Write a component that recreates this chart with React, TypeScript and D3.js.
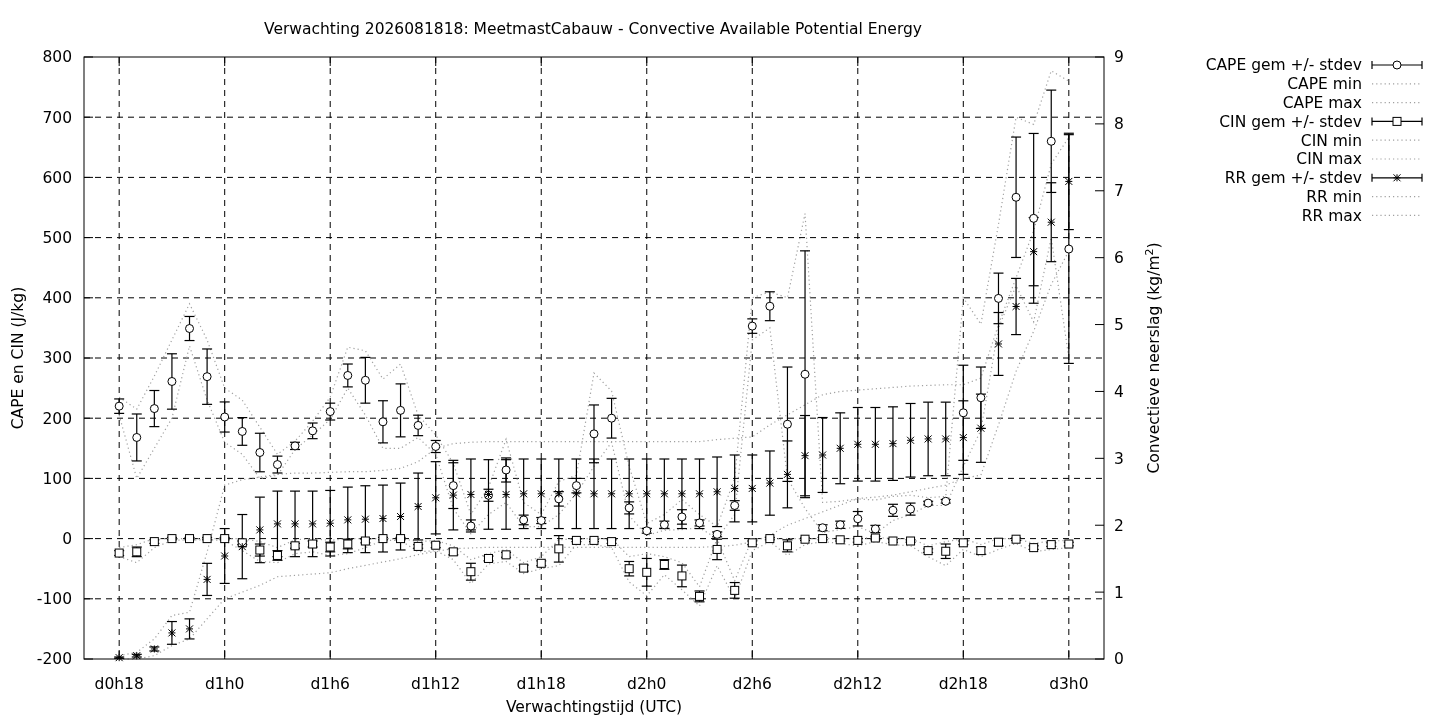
import * as d3 from "d3";
import { useEffect, useRef } from "react";

// forecast hour (18 = d0h18 ... 72 = d3h0)
const hours = d3.range(18, 73);

const capeMean = [220, 168, 216, 261, 349, 269, 202, 178, 143, 123, 154, 179, 211, 271, 263, 194, 213, 188, 153, 88, 21, 72, 114, 31, 30, 66, 88, 174, 200, 51, 13, 23, 36, 26, 7, 55, 353, 386, 190, 273, 18, 23, 33, 16, 47, 49, 59, 62, 209, 234, 399, 567, 532, 660, 481];
const capeSd = [12, 39, 30, 46, 20, 46, 25, 23, 32, 14, 6, 13, 14, 19, 38, 35, 44, 17, 10, 38, 10, 10, 20, 8, 5, 12, 12, 48, 33, 10, 4, 6, 12, 5, 4, 8, 12, 24, 95, 205, 5, 6, 12, 6, 10, 10, 3, 3, 79, 51, 42, 100, 141, 85, 190];
const capeMin = [205, 100, 150, 200, 320, 230, 160, 140, 100, 105, 148, 172, 198, 250, 205, 150, 150, 168, 140, 50, 8, 40, 60, 20, 20, 40, 75, 120, 160, 38, 5, 14, 15, 18, 0, 40, 330, 350, 100, 50, 10, 15, 20, 8, 30, 40, 55, 55, 120, 180, 350, 420, 360, 500, 300];
const capeMax = [235, 215, 270, 330, 390, 330, 250, 230, 185, 140, 162, 195, 235, 318, 312, 265, 290, 205, 172, 125, 40, 85, 165, 60, 40, 95, 105, 275, 245, 120, 25, 40, 65, 40, 20, 100, 400, 410, 400, 540, 60, 62, 66, 64, 70, 72, 68, 70, 400, 356, 522, 700, 688, 777, 760];

const cinMean = [-24, -22, -5, 0, 0, 0, 0, -7, -19, -28, -12, -9, -14, -9, -4, 0, 0, -13, -11, -22, -55, -33, -27, -49, -41, -17, -3, -3, -5, -50, -56, -43, -62, -96, -18, -86, -7, 0, -12, -1, 0, -2, -3, 1, -4, -4, -20, -21, -7, -20, -6, -1, -15, -10, -9];
const cinSd = [4, 8, 3, 2, 2, 2, 2, 3, 10, 8, 4, 5, 8, 8, 3, 2, 2, 3, 4, 5, 14, 4, 4, 5, 4, 22, 2, 2, 3, 12, 23, 8, 18, 9, 17, 13, 3, 2, 10, 2, 2, 2, 3, 3, 2, 2, 3, 12, 3, 6, 6, 2, 3, 3, 3];
const cinMin = [-30, -40, -15, -3, -2, -2, -3, -20, -38, -40, -25, -22, -28, -25, -15, -3, -3, -22, -20, -35, -75, -42, -38, -58, -50, -45, -10, -10, -15, -72, -95, -60, -85, -112, -45, -100, -20, -5, -28, -10, -5, -8, -12, -5, -10, -12, -30, -45, -18, -30, -18, -8, -22, -18, -15];
const cinMax = [-15, -10, 0, 0, 0, 0, 0, 0, -5, -15, -2, 0, -3, 0, 0, 0, 0, -5, -3, -12, -35, -25, -18, -40, -30, -2, 0, 0, 0, -30, -25, -30, -40, -80, 0, -70, 0, 0, 0, 0, 0, 0, 0, 2, 0, 0, -12, -5, 0, -10, 0, 0, -8, -4, -3];

const rrMean = [0.02, 0.05, 0.15, 0.39, 0.45, 1.19, 1.54, 1.68, 1.93, 2.02, 2.02, 2.02, 2.03, 2.08, 2.09, 2.1, 2.13, 2.28, 2.41, 2.45, 2.46, 2.46, 2.46, 2.47, 2.47, 2.47, 2.47, 2.47, 2.47, 2.47, 2.47, 2.47, 2.47, 2.47, 2.5, 2.55, 2.55, 2.63, 2.76, 3.04, 3.05, 3.15, 3.21, 3.21, 3.22, 3.27, 3.29, 3.29, 3.31, 3.45, 4.71, 5.27, 6.09, 6.53, 7.14];
const rrSd = [0.01, 0.02, 0.03, 0.17, 0.15, 0.24, 0.41, 0.48, 0.49, 0.49, 0.49, 0.49, 0.49, 0.49, 0.5, 0.5, 0.5, 0.5, 0.54, 0.52, 0.53, 0.52, 0.52, 0.52, 0.52, 0.52, 0.52, 0.52, 0.52, 0.52, 0.52, 0.52, 0.52, 0.52, 0.52, 0.5, 0.5, 0.48, 0.5, 0.6, 0.56, 0.53, 0.55, 0.55, 0.55, 0.55, 0.55, 0.55, 0.55, 0.51, 0.47, 0.42, 0.51, 0.59, 0.72];
const rrMin = [0, 0, 0.05, 0.2, 0.3, 0.6, 0.9, 1.0, 1.1, 1.23, 1.25, 1.27, 1.29, 1.35, 1.4, 1.45, 1.5, 1.56, 1.61, 1.65, 1.66, 1.67, 1.67, 1.67, 1.67, 1.67, 1.67, 1.67, 1.67, 1.67, 1.67, 1.67, 1.67, 1.67, 1.68, 1.7, 1.75, 1.85, 2.0, 2.1, 2.2, 2.3, 2.4, 2.42, 2.45, 2.5, 2.55, 2.6, 2.7, 2.75, 3.5, 4.3, 4.9, 5.6, 6.1];
const rrMax = [0.05, 0.1, 0.3, 0.65, 0.7, 1.6, 2.6, 2.68, 2.72, 2.76, 2.78, 2.78, 2.79, 2.8, 2.8, 2.82, 2.85, 2.95, 3.15, 3.22, 3.24, 3.25, 3.25, 3.25, 3.25, 3.25, 3.25, 3.25, 3.25, 3.25, 3.25, 3.25, 3.25, 3.25, 3.28, 3.3, 3.32, 3.5, 3.65, 3.8, 3.95, 4.0, 4.02, 4.04, 4.06, 4.08, 4.09, 4.1, 4.1, 4.2, 5.0, 5.7, 6.4, 7.4, 7.8];

const xTickHours = [18, 24, 30, 36, 42, 48, 54, 60, 66, 72];
const xTickLabels = ["d0h18", "d1h0", "d1h6", "d1h12", "d1h18", "d2h0", "d2h6", "d2h12", "d2h18", "d3h0"];
const yTicks = d3.range(-200, 801, 100);
const y2Ticks = d3.range(0, 10, 1);

const legendLabels = ["CAPE gem +/- stdev", "CAPE min", "CAPE max", "CIN gem +/- stdev", "CIN min", "CIN max", "RR gem +/- stdev", "RR min", "RR max"];

const width = 1440;
const height = 720;
const margin = { top: 57, right: 336, bottom: 61, left: 84 };
const font = "'DejaVu Sans', sans-serif";
const fs = "15.5px";
const grey = "#a0a0a0";

export default function App() {
  const svgRef = useRef<SVGSVGElement>(null);

  useEffect(() => {
    if (!svgRef.current) return;
    const svg = d3.select(svgRef.current);
    svg.selectAll("*").remove();

    const innerWidth = width - margin.left - margin.right;
    const innerHeight = height - margin.top - margin.bottom;

    const x = d3.scaleLinear().domain([16, 74]).range([0, innerWidth]);
    const y = d3.scaleLinear().domain([-200, 800]).range([innerHeight, 0]);
    const y2 = d3.scaleLinear().domain([0, 9]).range([innerHeight, 0]);

    svg.style("font-family", font);
    const g = svg.append("g").attr("transform", `translate(${margin.left},${margin.top})`);

    // Grid
    const grid = g.append("g").attr("stroke", "#000").attr("stroke-width", 1).attr("stroke-dasharray", "6,5");
    xTickHours.forEach((h) => {
      grid.append("line").attr("x1", x(h)).attr("x2", x(h)).attr("y1", 0).attr("y2", innerHeight);
    });
    yTicks.slice(1, -1).forEach((v) => {
      grid.append("line").attr("x1", 0).attr("x2", innerWidth).attr("y1", y(v)).attr("y2", y(v));
    });

    // Ticks (inward) and labels
    const ticks = g.append("g").attr("stroke", "#000");
    const labels = g.append("g").style("font-size", fs).attr("fill", "#000");
    yTicks.forEach((v) => {
      ticks.append("line").attr("x1", 0).attr("x2", 9).attr("y1", y(v)).attr("y2", y(v));
      labels.append("text").attr("x", -12).attr("y", y(v)).attr("dy", "0.35em").attr("text-anchor", "end").text(v);
    });
    y2Ticks.forEach((v) => {
      ticks.append("line").attr("x1", innerWidth).attr("x2", innerWidth - 9).attr("y1", y2(v)).attr("y2", y2(v));
      labels.append("text").attr("x", innerWidth + 10).attr("y", y2(v)).attr("dy", "0.35em").text(v);
    });
    xTickHours.forEach((h, i) => {
      ticks.append("line").attr("x1", x(h)).attr("x2", x(h)).attr("y1", innerHeight).attr("y2", innerHeight - 9);
      ticks.append("line").attr("x1", x(h)).attr("x2", x(h)).attr("y1", 0).attr("y2", 9);
      labels.append("text").attr("x", x(h)).attr("y", innerHeight + 30).attr("text-anchor", "middle").text(xTickLabels[i]);
    });

    // Min / max dotted lines
    const dotted = (vals: number[], scale: d3.ScaleLinear<number, number>) => {
      const line = d3.line<number>().x((_, i) => x(hours[i])).y((d) => scale(d));
      g.append("path")
        .attr("d", line(vals))
        .attr("fill", "none")
        .attr("stroke", grey)
        .attr("stroke-width", 1.2)
        .attr("stroke-dasharray", "1.2,3");
    };
    dotted(capeMin, y);
    dotted(capeMax, y);
    dotted(cinMin, y);
    dotted(cinMax, y);
    dotted(rrMin, y2);
    dotted(rrMax, y2);

    // Error bars
    const errorBars = (mean: number[], sd: number[], scale: d3.ScaleLinear<number, number>) => {
      const eb = g.append("g").attr("stroke", "#000").attr("stroke-width", 1.2);
      mean.forEach((m, i) => {
        const cx = x(hours[i]);
        const top = scale(m + sd[i]);
        const bot = scale(m - sd[i]);
        eb.append("line").attr("x1", cx).attr("x2", cx).attr("y1", top).attr("y2", bot);
        eb.append("line").attr("x1", cx - 5).attr("x2", cx + 5).attr("y1", top).attr("y2", top);
        eb.append("line").attr("x1", cx - 5).attr("x2", cx + 5).attr("y1", bot).attr("y2", bot);
      });
    };
    errorBars(capeMean, capeSd, y);
    errorBars(cinMean, cinSd, y);
    errorBars(rrMean, rrSd, y2);

    // Point symbols
    const circle = (sel: d3.Selection<SVGGElement, unknown, null, undefined>, cx: number, cy: number) =>
      sel.append("circle").attr("cx", cx).attr("cy", cy).attr("r", 4).attr("fill", "#fff").attr("stroke", "#000").attr("stroke-width", 1);
    const square = (sel: d3.Selection<SVGGElement, unknown, null, undefined>, cx: number, cy: number) =>
      sel.append("rect").attr("x", cx - 4).attr("y", cy - 4).attr("width", 8).attr("height", 8).attr("fill", "#fff").attr("stroke", "#000").attr("stroke-width", 1);
    const star = (sel: d3.Selection<SVGGElement, unknown, null, undefined>, cx: number, cy: number) => {
      const s = 3.5;
      sel.append("path")
        .attr("d", `M${cx - s},${cy}H${cx + s}M${cx},${cy - s}V${cy + s}M${cx - s},${cy - s}L${cx + s},${cy + s}M${cx - s},${cy + s}L${cx + s},${cy - s}`)
        .attr("stroke", "#000").attr("stroke-width", 1);
    };
    const pts = g.append("g");
    capeMean.forEach((m, i) => circle(pts, x(hours[i]), y(m)));
    cinMean.forEach((m, i) => square(pts, x(hours[i]), y(m)));
    rrMean.forEach((m, i) => star(pts, x(hours[i]), y2(m)));

    // Border
    g.append("rect").attr("width", innerWidth).attr("height", innerHeight).attr("fill", "none").attr("stroke", "#000").attr("stroke-width", 1);

    // Titles
    svg.append("text").attr("x", 593).attr("y", 34).attr("text-anchor", "middle").style("font-size", fs)
      .text("Verwachting 2026081818: MeetmastCabauw - Convective Available Potential Energy");
    svg.append("text").attr("x", margin.left + innerWidth / 2).attr("y", 712).attr("text-anchor", "middle").style("font-size", fs)
      .text("Verwachtingstijd (UTC)");
    svg.append("text").attr("transform", `translate(23,${margin.top + innerHeight / 2}) rotate(-90)`).attr("text-anchor", "middle").style("font-size", fs)
      .text("CAPE en CIN (J/kg)");
    const r = svg.append("text").attr("transform", `translate(1159,${margin.top + innerHeight / 2}) rotate(-90)`).attr("text-anchor", "middle").style("font-size", fs);
    r.append("tspan").text("Convectieve neerslag (kg/m");
    r.append("tspan").attr("dy", -6).style("font-size", "11px").text("2");
    r.append("tspan").attr("dy", 6).text(")");

    // Legend
    const lg = svg.append("g");
    legendLabels.forEach((lab, i) => {
      const ly = 65 + i * 18.8;
      lg.append("text").attr("x", 1362).attr("y", ly).attr("dy", "0.35em").attr("text-anchor", "end").style("font-size", fs).text(lab);
      const sample = lg.append("g");
      if (i % 3 === 0) {
        sample.append("path").attr("d", `M1372,${ly}H1422M1372,${ly - 4}V${ly + 4}M1422,${ly - 4}V${ly + 4}`).attr("stroke", "#000").attr("stroke-width", 1.2);
        if (i === 0) circle(sample, 1397, ly);
        if (i === 3) square(sample, 1397, ly);
        if (i === 6) star(sample, 1397, ly);
      } else {
        sample.append("line").attr("x1", 1372).attr("x2", 1422).attr("y1", ly).attr("y2", ly)
          .attr("stroke", grey).attr("stroke-width", 1.2).attr("stroke-dasharray", "1.2,3");
      }
    });
  }, []);

  return <svg ref={svgRef} width={width} height={height} style={{ position: "fixed", top: 0, left: 0 }} />;
}
